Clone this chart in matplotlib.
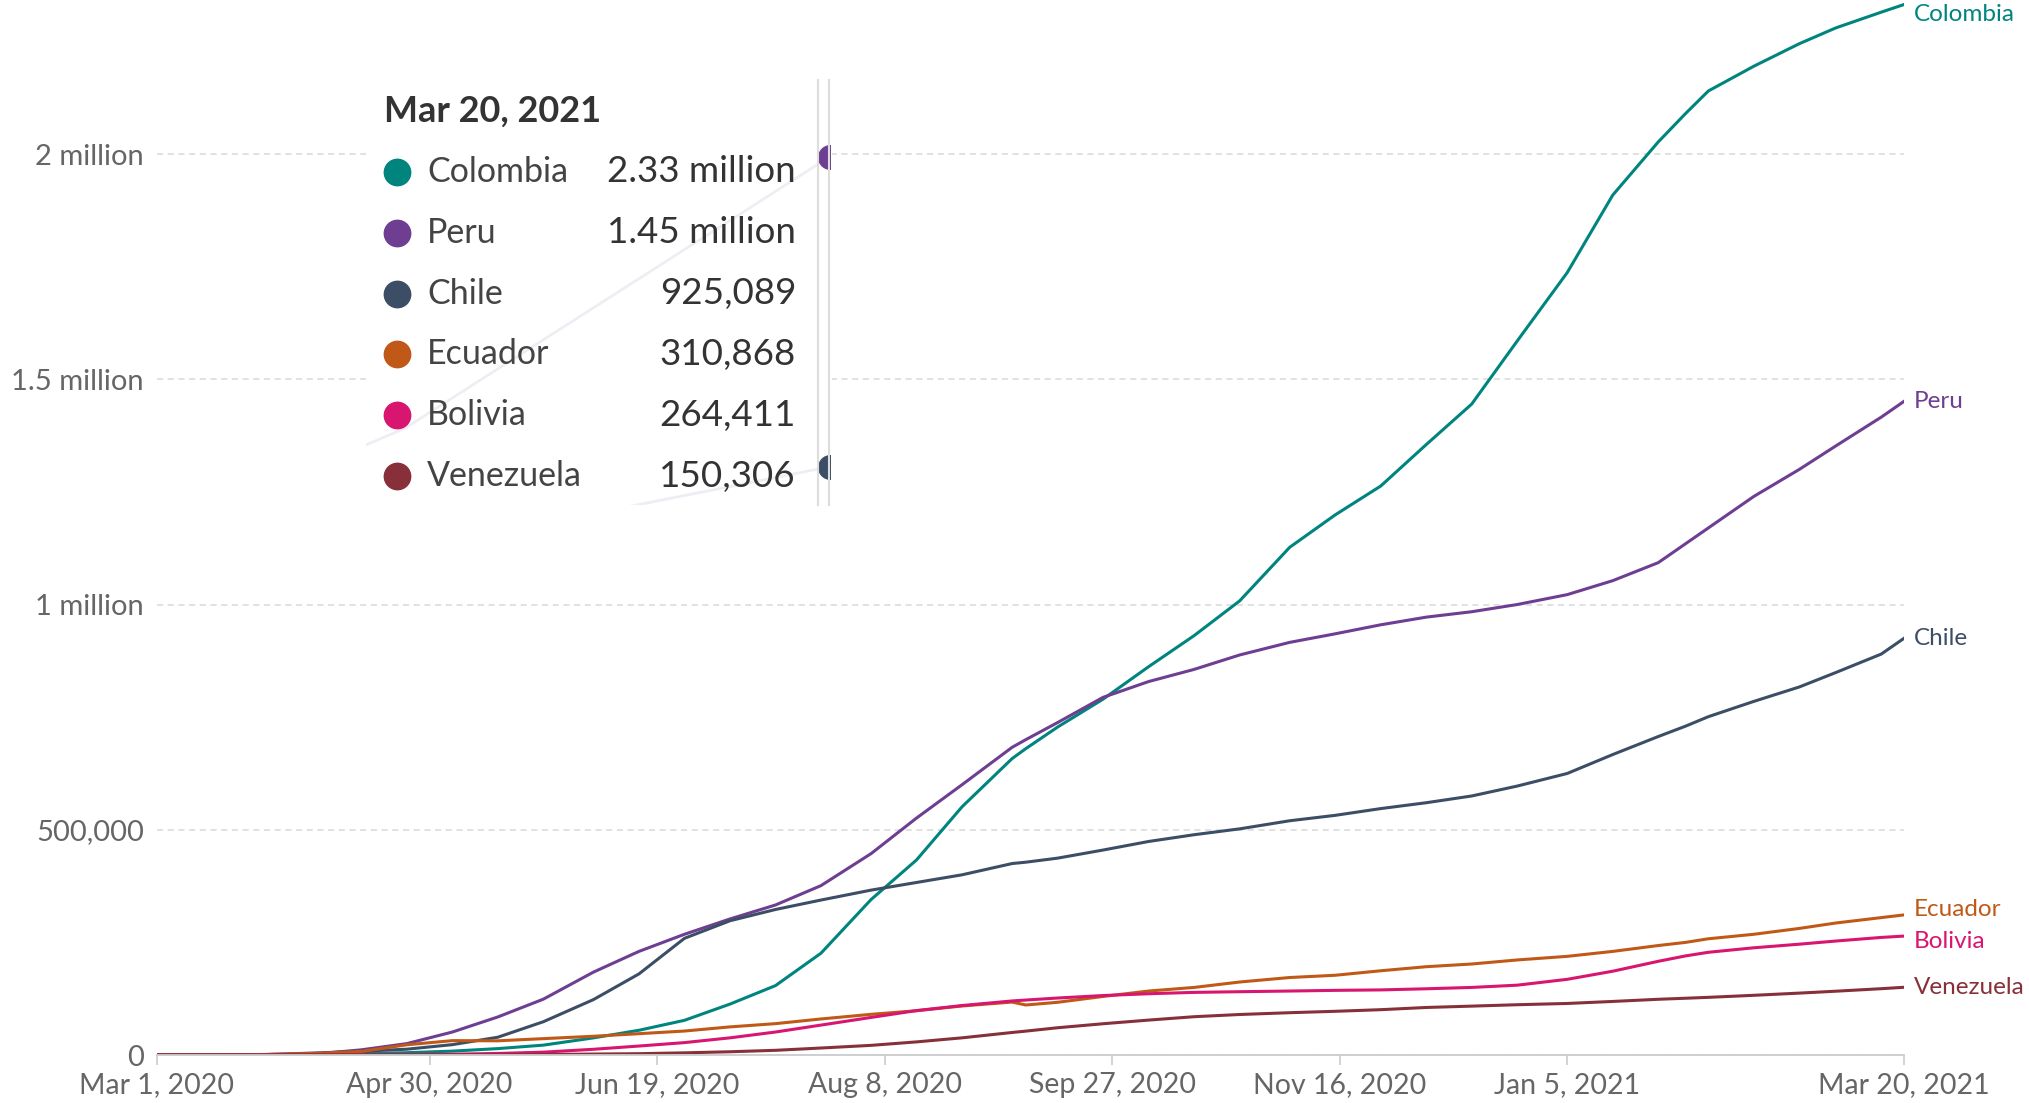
import matplotlib
matplotlib.use("Agg")
import matplotlib.pyplot as plt
import pandas as pd

plt.rcParams['font.family'] = ['Lato', 'DejaVu Sans']

# casos confirmados acumulados (em milhares)
datas = ["2020-03-01", "2020-03-15", "2020-03-25", "2020-04-05", "2020-04-15", "2020-04-25",
         "2020-05-05", "2020-05-15", "2020-05-25", "2020-06-05", "2020-06-15", "2020-06-25",
         "2020-07-05", "2020-07-15", "2020-07-25", "2020-08-05", "2020-08-15", "2020-08-25",
         "2020-09-05", "2020-09-08", "2020-09-15", "2020-09-25", "2020-10-05", "2020-10-15",
         "2020-10-25", "2020-11-05", "2020-11-15", "2020-11-25", "2020-12-05", "2020-12-15",
         "2020-12-25", "2021-01-05", "2021-01-15", "2021-01-25", "2021-01-31", "2021-02-05",
         "2021-02-15", "2021-02-25", "2021-03-05", "2021-03-15", "2021-03-20"]

colombia = [0, 0.05, 0.47, 1.4, 3.0, 5.1, 8.6, 14.2, 21.9, 38, 54.9, 77, 113, 154, 226, 345, 433, 551,
            658, 680, 728, 790, 862, 931, 1008, 1127, 1199, 1263, 1355, 1445, 1585, 1737, 1909, 2027,
            2090, 2140, 2195, 2245, 2280, 2315, 2332]
peru = [0, 0.04, 0.48, 2.3, 11.5, 25.3, 51, 84.5, 124, 184, 230, 268, 302, 333, 376, 447, 526, 600,
        683, 700, 738, 794, 829, 856, 888, 916, 935, 955, 972, 984, 1000, 1022, 1053, 1093,
        1135, 1170, 1240, 1300, 1352, 1416, 1451]
chile = [0, 0.07, 1.1, 4.5, 8.3, 12.9, 23, 39.5, 73.9, 123, 180, 259, 298, 323, 344, 366, 383, 400,
         425, 428, 437, 455, 474, 489, 502, 520, 532, 547, 560, 575, 597, 625, 667, 707,
         730, 751, 785, 817, 849, 890, 925]
ecuador = [0, 0.03, 1.2, 3.6, 8.0, 22.7, 31.9, 31.5, 36.3, 41.6, 47.3, 53.2, 62.4, 69.6, 80.0, 90.3,
           98.3, 108.8, 117.5, 111, 117, 130, 142, 150, 162, 172, 177, 187, 196, 202, 211, 219,
           230, 243, 250, 258, 268, 281, 293, 305, 311]
bolivia = [0, 0.01, 0.04, 0.16, 0.4, 0.9, 1.8, 3.4, 6.3, 12.7, 19.9, 27.5, 38.1, 51.0, 66.4, 83.4,
           98.6, 109.8, 120, 122, 126.5, 132, 136, 139, 140.5, 142, 143.5, 144.5, 147, 150, 155,
           168, 186, 208, 220, 228, 238, 246, 253, 261, 264]
venezuela = [0, 0.01, 0.1, 0.16, 0.19, 0.3, 0.36, 0.46, 1.2, 2.1, 2.9, 4.8, 7.2, 10.4, 15.5, 21.4,
             29.1, 38.1, 50, 53, 60.5, 69.4, 77.5, 85.0, 89.9, 93.9, 97.0, 100.6, 105.5, 108.5,
             111.6, 114.4, 118.9, 123.7, 126, 128, 132.5, 137.4, 141.6, 147.2, 150.3]

paises = ["Colombia", "Peru", "Chile", "Ecuador", "Bolivia", "Venezuela"]
series = [colombia, peru, chile, ecuador, bolivia, venezuela]
cores = ["#00847e", "#6d3e91", "#3c4e66", "#c05917", "#d8156f", "#883039"]
valores_tooltip = ["2.33 million", "1.45 million", "925,089", "310,868", "264,411", "150,306"]

xticks = ["2020-03-01", "2020-04-30", "2020-06-19", "2020-08-08", "2020-09-27",
          "2020-11-16", "2021-01-05", "2021-03-20"]
xticklabels = ["Mar 1, 2020", "Apr 30, 2020", "Jun 19, 2020", "Aug 8, 2020", "Sep 27, 2020",
               "Nov 16, 2020", "Jan 5, 2021", "Mar 20, 2021"]
yticks = [0, 500000, 1000000, 1500000, 2000000]
yticklabels = ["0", "500,000", "1 million", "1.5 million", "2 million"]

W, H = 2029, 1103


def caixa(x0, y0, x1, y1):
    # retangulo em pixels (origem no topo) -> fracao da figura
    return [x0 / W, 1 - y1 / H, (x1 - x0) / W, (y1 - y0) / H]


fig = plt.figure(figsize=(W / 100, H / 100), dpi=100)
ax = fig.add_axes(caixa(156.6, 0, 1904, 1055))

x = pd.to_datetime(datas)
for nome, vals, cor in zip(paises, series, cores):
    ax.plot(x, [v * 1000 for v in vals], color=cor, lw=2.2, solid_joinstyle='round')

inicio = pd.Timestamp("2020-03-01")
fim = pd.Timestamp("2021-03-20")
topo = 2.342e6
ax.set_xlim(inicio, fim)
ax.set_ylim(0, topo)

ax.set_xticks(pd.to_datetime(xticks))
ax.set_xticklabels(xticklabels)
ax.set_yticks(yticks)
ax.set_yticklabels(yticklabels)

ax.yaxis.grid(True, linestyle=(0, (4, 3)), color="#d9d9d9", lw=1.1)
ax.set_axisbelow(True)
for lado in ["top", "right", "left"]:
    ax.spines[lado].set_visible(False)
ax.spines["bottom"].set_color("#cccccc")
ax.spines["bottom"].set_linewidth(1.3)
ax.tick_params(axis="x", length=7, color="#cccccc", width=1.2, labelcolor="#666666",
               labelsize=20.5, pad=5)
ax.tick_params(axis="y", length=0, labelcolor="#666666", labelsize=21, pad=9)

# rotulos no fim das linhas, afastando os que se sobrepoem
ultimos = [vals[-1] * 1000 for vals in series]
ordem = sorted(range(len(ultimos)), key=lambda i: ultimos[i])
pos = {i: ultimos[i] for i in ordem}
gap = 69000
for _ in range(20):
    for a, b in zip(ordem[:-1], ordem[1:]):
        d = pos[b] - pos[a]
        if d < gap:
            pos[a] -= (gap - d) / 2
            pos[b] += (gap - d) / 2
for i, nome in enumerate(paises):
    yl = min(pos[i], topo - 32000)
    ax.annotate(nome, xy=(fim, yl), xytext=(7, 0), textcoords="offset points",
                va="center", ha="left", color=cores[i], fontsize=17.5, annotation_clip=False)

# tooltip
fundo = fig.add_axes(caixa(366, 80, 832, 505), zorder=1)
fundo.set_facecolor("white")
fundo.set_xticks([])
fundo.set_yticks([])
for s in fundo.spines.values():
    s.set_visible(False)

# restos de linhas apagadas dentro do tooltip
mini = fig.add_axes(caixa(366, 80, 830, 505), zorder=2)
mini.patch.set_visible(False)
mini.axis("off")
for k in [1, 2]:
    mini.plot(x, [v * 1000 for v in series[k]], color="#cfc3dc", lw=2, alpha=0.3)
    mini.plot(x[15], series[k][15] * 1000, "o", color=cores[k], ms=17)
mini.set_xlim(pd.Timestamp("2020-07-24"), x[15])
mini.set_ylim(356000, 467000)
for xl in [818, 829]:
    fig.add_artist(plt.Line2D([xl / W, xl / W], [1 - 505 / H, 1 - 80 / H],
                              color="#dddddd", lw=1.5, zorder=3))

tt = fig.add_axes(caixa(366, 80, 832, 505), zorder=4)
tt.patch.set_visible(False)
tt.axis("off")
tt.set_xlim(366, 832)
tt.set_ylim(505, 80)
tt.text(384, 111, "Mar 20, 2021", fontsize=26, fontweight="bold", color="#333333", va="center")
for i, nome in enumerate(paises):
    yy = 172 + i * 60.8
    tt.plot(397, yy, "o", color=cores[i], ms=19, clip_on=False)
    tt.text(427, yy, nome, fontsize=24.5, color="#444444", va="center", ha="left")
    tt.text(796, yy, valores_tooltip[i], fontsize=26.5, color="#333333", va="center", ha="right")

fig.savefig("out.png", dpi=100)
